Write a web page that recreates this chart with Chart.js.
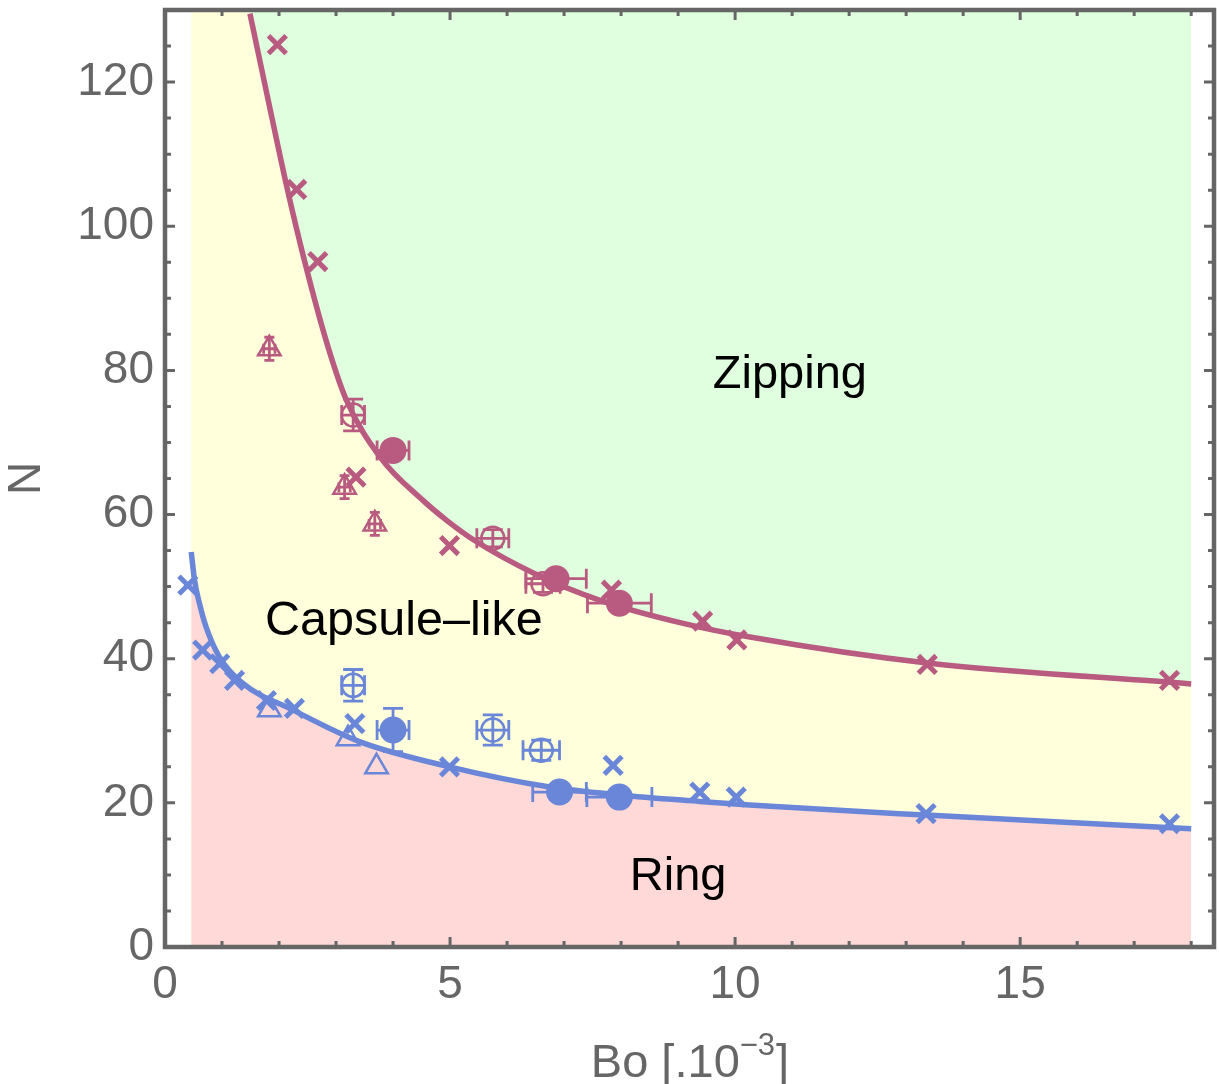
<!DOCTYPE html>
<html><head><meta charset="utf-8">
<script src="https://cdn.jsdelivr.net/npm/chart.js@4.4.1/dist/chart.umd.min.js"></script>
<style>html,body{margin:0;padding:0;background:#fff;}canvas{display:block;}</style>
</head><body>
<canvas id="c" width="1219" height="1084"></canvas>
<script>
// ---------- data ----------
const xTickLabels = [0, 5, 10, 15];
const yTickLabels = [0, 20, 40, 60, 80, 100, 120];
const xRange = [0, 18.4];
const yRange = [0, 130];

// extent of the coloured phase regions
const regionX = [0.46, 18];

// boundary curves
const zipBoundaryX = [1.49, 1.81, 2.15, 2.45, 2.85, 3.18, 3.79, 4.52, 4.94, 5.43, 6.46, 7.63, 9.09, 10.26, 13.37, 18.0];
const zipBoundaryN = [129.5, 117.5, 105.0, 95.1, 83.5, 75.9, 67.8, 62.0, 59.2, 56.4, 51.9, 48.1, 44.9, 43.0, 39.4, 36.5];
const ringBoundaryX = [0.46, 0.52, 0.6, 0.72, 0.95, 1.36, 2.24, 3.41, 4.99, 6.75, 7.97, 9.38, 10.25, 13.35, 18.0];
const ringBoundaryN = [54.8, 50.8, 47.8, 44.4, 40.3, 36.6, 32.9, 28.5, 25.0, 22.2, 21.1, 20.2, 19.7, 18.3, 16.4];

// Zipping threshold (magenta) measurements
const zipCrossX = [1.97, 2.31, 2.68, 3.35, 4.99, 7.83, 9.43, 10.03, 13.37, 17.62];
const zipCrossN = [125.2, 105.1, 95.1, 65.2, 55.7, 49.5, 45.2, 42.6, 39.2, 37.0];
const zipTriX = [1.83, 3.15, 3.68];
const zipTriN = [83.0, 63.8, 58.7];
const zipTriXErr = [0.1, 0.1, 0.1];
const zipTriNErr = [1.6, 1.6, 1.6];
const zipOpenX = [3.30, 5.75, 6.63];
const zipOpenN = [73.8, 56.7, 50.4];
const zipOpenXErr = [0.2, 0.28, 0.3];
const zipOpenNErr = [2.2, 1.2, 1.2];
const zipFullX = [4.00, 6.86, 7.97];
const zipFullN = [68.9, 51.1, 47.7];
const zipFullXErr = [0.28, 0.53, 0.56];
const zipFullNErr = [1.0, 1.0, 1.0];

// Ring threshold (blue) measurements
const ringCrossX = [0.40, 0.66, 0.96, 1.22, 1.78, 2.27, 3.33, 4.99, 7.86, 9.38, 10.02, 13.35, 17.62];
const ringCrossN = [50.2, 41.2, 39.3, 37.0, 34.2, 33.1, 31.0, 25.0, 25.2, 21.5, 20.8, 18.5, 17.1];
const ringTriX = [1.83, 3.21, 3.71];
const ringTriN = [32.9, 28.9, 25.0];
const ringOpenX = [3.30, 5.75, 6.60];
const ringOpenN = [36.3, 30.1, 27.3];
const ringOpenXErr = [0.2, 0.28, 0.32];
const ringOpenNErr = [2.2, 2.1, 1.4];
const ringFullX = [4.00, 6.92, 7.97];
const ringFullN = [30.1, 21.5, 20.8];
const ringFullXErr = [0.28, 0.47, 0.57];
const ringFullNErr = [3.0, 1.0, 1.0];

const regionLabels = ['Zipping', 'Capsule\u2013like', 'Ring'];

// ---------- styling ----------
const MAG = '#b95a80', BLU = '#6a86d8';
const GREEN = '#dfffdf', YELLOW = '#ffffdc', PINK = '#ffd8d8';
const AXIS = '#666666';
const FAM = "'Liberation Sans', Arial, Helvetica, sans-serif";
const pts = (xs, ys) => xs.map((x, i) => ({x: x, y: ys[i]}));
const none = 'rgba(0,0,0,0)';

function markerSet(xs, ys, color, style) {
  const base = {data: pts(xs, ys), showLine: false, order: 1, borderColor: color};
  if (style === 'cross') return Object.assign(base, {pointStyle: 'crossRot', pointRadius: 12.5, borderWidth: 5, backgroundColor: color});
  if (style === 'tri') return Object.assign(base, {pointStyle: 'triangle', pointRadius: 13, borderWidth: 2.5, backgroundColor: none});
  if (style === 'open') return Object.assign(base, {pointStyle: 'circle', pointRadius: 11.5, borderWidth: 2.5, backgroundColor: none});
  return Object.assign(base, {pointStyle: 'circle', pointRadius: 13.5, borderWidth: 0, backgroundColor: color});
}

const errorSets = [
  {xs: zipTriX, ys: zipTriN, ex: zipTriXErr, ey: zipTriNErr, color: MAG, cap: 5},
  {xs: zipOpenX, ys: zipOpenN, ex: zipOpenXErr, ey: zipOpenNErr, color: MAG, cap: 10},
  {xs: zipFullX, ys: zipFullN, ex: zipFullXErr, ey: zipFullNErr, color: MAG, cap: 10},
  {xs: ringOpenX, ys: ringOpenN, ex: ringOpenXErr, ey: ringOpenNErr, color: BLU, cap: 10},
  {xs: ringFullX, ys: ringFullN, ex: ringFullXErr, ey: ringFullNErr, color: BLU, cap: 10}
];

const errorBars = {
  id: 'errorBars',
  afterDatasetsDraw(chart) {
    const ctx = chart.ctx, x = chart.scales.x, y = chart.scales.y;
    ctx.save();
    ctx.lineWidth = 2.8;
    errorSets.forEach(s => {
      ctx.strokeStyle = s.color;
      s.xs.forEach((xv, i) => {
        const yv = s.ys[i];
        const px = x.getPixelForValue(xv), py = y.getPixelForValue(yv);
        ctx.beginPath();
        if (s.ex[i] > 0) {
          const l = x.getPixelForValue(xv - s.ex[i]), r = x.getPixelForValue(xv + s.ex[i]);
          ctx.moveTo(l, py); ctx.lineTo(r, py);
          ctx.moveTo(l, py - s.cap); ctx.lineTo(l, py + s.cap);
          ctx.moveTo(r, py - s.cap); ctx.lineTo(r, py + s.cap);
        }
        if (s.ey[i] > 0) {
          const t = y.getPixelForValue(yv + s.ey[i]), b = y.getPixelForValue(yv - s.ey[i]);
          ctx.moveTo(px, t); ctx.lineTo(px, b);
          ctx.moveTo(px - s.cap, t); ctx.lineTo(px + s.cap, t);
          ctx.moveTo(px - s.cap, b); ctx.lineTo(px + s.cap, b);
        }
        ctx.stroke();
      });
    });
    ctx.restore();
  }
};

const textLabels = {
  id: 'textLabels',
  afterDatasetsDraw(chart) {
    const ctx = chart.ctx, x = chart.scales.x, y = chart.scales.y;
    const anchors = [[10.96, 77.6, 47], [4.19, 43.3, 48.5], [9.0, 7.9, 47]];
    ctx.save();
    ctx.fillStyle = '#000';
    ctx.textAlign = 'center';
    ctx.textBaseline = 'alphabetic';
    regionLabels.forEach((t, i) => {
      ctx.font = anchors[i][2] + 'px ' + FAM;
      ctx.fillText(t, x.getPixelForValue(anchors[i][0]), y.getPixelForValue(anchors[i][1]));
    });
    ctx.restore();
  }
};

const frame = {
  id: 'frame',
  afterDraw(chart) {
    const ctx = chart.ctx, a = chart.chartArea, x = chart.scales.x, y = chart.scales.y;
    ctx.save();
    ctx.strokeStyle = AXIS;
    ctx.lineWidth = 3;
    ctx.beginPath();
    for (let v = 0; v <= xRange[1] + 1e-9; v += 1) {
      const p = x.getPixelForValue(v);
      const len = (v % 5 === 0) ? 10 : 6;
      ctx.moveTo(p, a.bottom); ctx.lineTo(p, a.bottom - len);
      ctx.moveTo(p, a.top); ctx.lineTo(p, a.top + len);
    }
    for (let v = 0; v <= yRange[1] + 1e-9; v += 5) {
      const p = y.getPixelForValue(v);
      const len = (v % 20 === 0) ? 10 : 6;
      ctx.moveTo(a.left, p); ctx.lineTo(a.left + len, p);
      ctx.moveTo(a.right, p); ctx.lineTo(a.right - len, p);
    }
    ctx.stroke();
    ctx.lineWidth = 4.5;
    ctx.strokeRect(a.left, a.top, a.right - a.left, a.bottom - a.top);
    // x axis title with superscript
    const big = '47px ' + FAM, small = '31px ' + FAM;
    const p1 = 'Bo [.10', p2 = '\u22123', p3 = ']';
    ctx.font = big; const w1 = ctx.measureText(p1).width, w3 = ctx.measureText(p3).width;
    ctx.font = small; const w2 = ctx.measureText(p2).width;
    let sx = (a.left + a.right) / 2 - (w1 + w2 + w3) / 2;
    const base = 1077;
    ctx.fillStyle = AXIS;
    ctx.textBaseline = 'alphabetic';
    ctx.textAlign = 'left';
    ctx.font = big; ctx.fillText(p1, sx, base); sx += w1;
    ctx.font = small; ctx.fillText(p2, sx, base - 22); sx += w2 + 1;
    ctx.font = big; ctx.fillText(p3, sx, base);
    ctx.restore();
  }
};

new Chart(document.getElementById('c'), {
  type: 'scatter',
  data: {
    datasets: [
      markerSet(zipCrossX, zipCrossN, MAG, 'cross'),
      markerSet(zipTriX, zipTriN, MAG, 'tri'),
      markerSet(zipOpenX, zipOpenN, MAG, 'open'),
      markerSet(zipFullX, zipFullN, MAG, 'full'),
      markerSet(ringCrossX, ringCrossN, BLU, 'cross'),
      markerSet(ringTriX, ringTriN, BLU, 'tri'),
      markerSet(ringOpenX, ringOpenN, BLU, 'open'),
      markerSet(ringFullX, ringFullN, BLU, 'full'),
      {data: pts(zipBoundaryX, zipBoundaryN), showLine: true, pointRadius: 0, borderColor: MAG, borderWidth: 5.5,
       cubicInterpolationMode: 'monotone', fill: 'end', backgroundColor: GREEN, order: 5},
      {data: pts(ringBoundaryX, ringBoundaryN), showLine: true, pointRadius: 0, borderColor: BLU, borderWidth: 5.5,
       cubicInterpolationMode: 'monotone', fill: 'start', backgroundColor: PINK, order: 5},
      {data: [{x: regionX[0], y: yRange[1]}, {x: regionX[1], y: yRange[1]}], showLine: true, pointRadius: 0,
       borderWidth: 0, borderColor: none, fill: 'start', backgroundColor: YELLOW, order: 10}
    ]
  },
  options: {
    responsive: false, animation: false, devicePixelRatio: 1,
    layout: {autoPadding: false, padding: {top: 10, right: 5, left: 0, bottom: 0}},
    plugins: {legend: {display: false}, tooltip: {enabled: false}},
    scales: {
      x: {type: 'linear', min: xRange[0], max: xRange[1],
          grid: {display: false, drawTicks: false}, border: {display: false},
          afterBuildTicks: s => { s.ticks = xTickLabels.map(v => ({value: v})); },
          afterFit: s => { s.height = 137; s.paddingLeft = 0; s.paddingRight = 0; },
          ticks: {font: {size: 46, family: FAM}, color: AXIS, padding: 11, maxRotation: 0, autoSkip: false}},
      y: {type: 'linear', min: yRange[0], max: yRange[1],
          grid: {display: false, drawTicks: false}, border: {display: false},
          afterBuildTicks: s => { s.ticks = yTickLabels.map(v => ({value: v})); },
          afterFit: s => { s.width = 165; s.paddingTop = 0; s.paddingBottom = 0; },
          ticks: {font: {size: 46, family: FAM}, color: AXIS, padding: 11, autoSkip: false},
          title: {display: true, text: 'N', font: {size: 46, family: FAM}, color: AXIS, padding: {top: 0, bottom: 0}}}
    }
  },
  plugins: [errorBars, textLabels, frame]
});
</script>
</body></html>
